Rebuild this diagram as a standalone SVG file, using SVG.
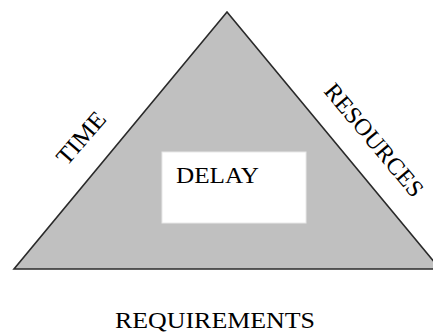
<svg xmlns="http://www.w3.org/2000/svg" width="433" height="333" viewBox="0 0 433 333">
  <style>
    .lbl { font-family: "Liberation Serif", "Times New Roman", serif; font-size: 24px; fill: #000; }
    .tri { fill: #c0c0c0; stroke: #2a2a2a; stroke-width: 1.6; stroke-linejoin: miter; }
    .box { fill: #ffffff; stroke: #e8e8e8; stroke-width: 1; }
  </style>
  <rect width="433" height="333" fill="#ffffff"/>
  <g id="triangle">
    <polygon class="tri" points="227,12 14,269 440,269"/>
  </g>
  <g id="delay">
    <rect class="box" x="162" y="152" width="144" height="71"/>
    <text class="lbl" x="176" y="183" textLength="83" lengthAdjust="spacingAndGlyphs">DELAY</text>
  </g>
  <g id="time">
    <text class="lbl" transform="translate(81,138) rotate(-49)" x="0" y="8" text-anchor="middle" textLength="62" lengthAdjust="spacingAndGlyphs">TIME</text>
  </g>
  <g id="resources">
    <text class="lbl" transform="translate(374,140) rotate(50)" x="0" y="8" text-anchor="middle" textLength="140" lengthAdjust="spacingAndGlyphs">RESOURCES</text>
  </g>
  <g id="requirements">
    <text class="lbl" x="115" y="328" textLength="200" lengthAdjust="spacingAndGlyphs">REQUIREMENTS</text>
  </g>
</svg>
